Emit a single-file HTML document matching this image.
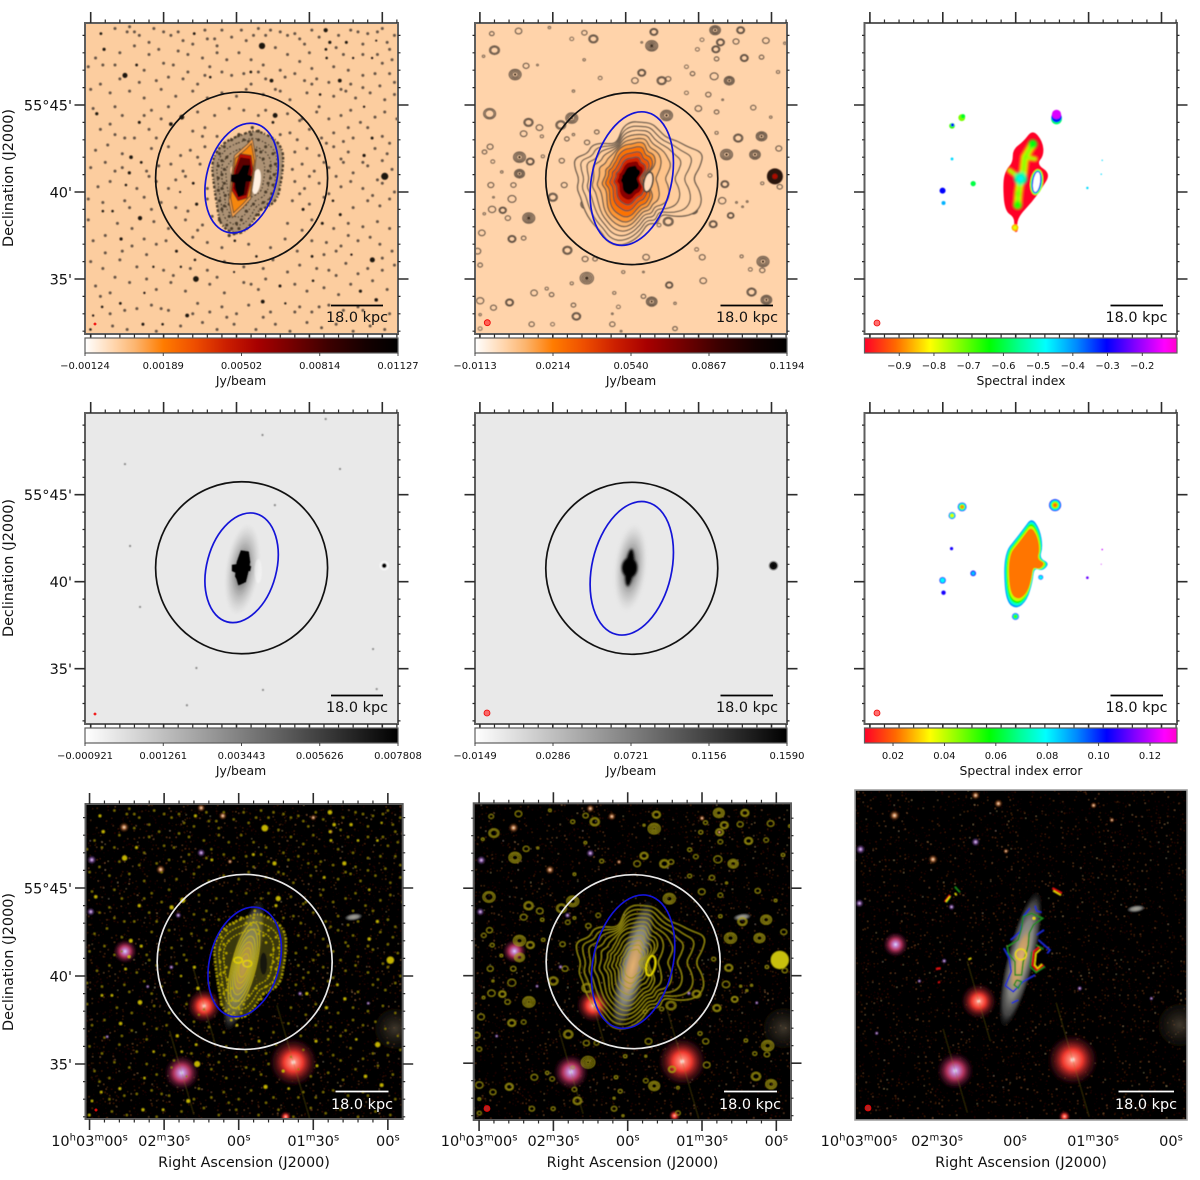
<!DOCTYPE html>
<html lang="en">
<head>
<meta charset="utf-8">
<title>Radio continuum maps of a galaxy</title>
<style>
html,body{margin:0;padding:0;background:#fff}
svg{display:block;filter:blur(0.3px)}
text{font-family:"DejaVu Sans","Liberation Sans",sans-serif;fill:#111}
</style>
</head>
<body>
<svg id="fig" xmlns="http://www.w3.org/2000/svg" width="1200" height="1180" viewBox="0 0 1200 1180">
<defs>
<filter id="soft" x="-5%" y="-5%" width="110%" height="110%"><feGaussianBlur stdDeviation="0.45"/></filter>
<filter id="soft2" x="-30%" y="-30%" width="160%" height="160%"><feGaussianBlur stdDeviation="1.4"/></filter>
<filter id="soft4" x="-50%" y="-50%" width="200%" height="200%"><feGaussianBlur stdDeviation="3.5"/></filter>
<filter id="speckle" x="0" y="0" width="100%" height="100%" color-interpolation-filters="sRGB">
<feTurbulence type="fractalNoise" baseFrequency="0.62" numOctaves="2" seed="11"/>
<feColorMatrix type="matrix" values="9 0 0 0 -6.6  8 0 0 0 -6.1  7 0 0 0 -5.5  0 0 0 0 1"/>
</filter>
<radialGradient id="glow-red"><stop offset="0" stop-color="#fff"/><stop offset=".12" stop-color="#ff8a78"/><stop offset=".38" stop-color="#f0392e"/><stop offset=".65" stop-color="#a02024" stop-opacity=".6"/><stop offset="1" stop-color="#501020" stop-opacity="0"/></radialGradient>
<radialGradient id="glow-purple"><stop offset="0" stop-color="#dfe4ff"/><stop offset=".15" stop-color="#c88bd8"/><stop offset=".45" stop-color="#b0325a"/><stop offset=".72" stop-color="#701838" stop-opacity=".55"/><stop offset="1" stop-color="#300818" stop-opacity="0"/></radialGradient>
<radialGradient id="glow-warm"><stop offset="0" stop-color="#fff2d8"/><stop offset=".3" stop-color="#c07a48"/><stop offset=".65" stop-color="#603014" stop-opacity=".5"/><stop offset="1" stop-color="#301808" stop-opacity="0"/></radialGradient>
<radialGradient id="glow-violet"><stop offset="0" stop-color="#f0e0ff"/><stop offset=".3" stop-color="#9060b0"/><stop offset=".7" stop-color="#402850" stop-opacity=".45"/><stop offset="1" stop-color="#201028" stop-opacity="0"/></radialGradient>
<radialGradient id="glow-dim"><stop offset="0" stop-color="#8a7a60" stop-opacity=".45"/><stop offset="1" stop-color="#4a4030" stop-opacity="0"/></radialGradient>
<radialGradient id="gal-grey"><stop offset="0" stop-color="#a8a498"/><stop offset=".55" stop-color="#84847f"/><stop offset=".82" stop-color="#5c5c5c" stop-opacity=".7"/><stop offset="1" stop-color="#333" stop-opacity="0"/></radialGradient>
<radialGradient id="gal-core"><stop offset="0" stop-color="#e4b070"/><stop offset=".65" stop-color="#c09a68"/><stop offset="1" stop-color="#8a8a80" stop-opacity="0"/></radialGradient>
<radialGradient id="halo-dark"><stop offset="0" stop-color="#000" stop-opacity=".85"/><stop offset=".45" stop-color="#333" stop-opacity=".38"/><stop offset="1" stop-color="#888" stop-opacity="0"/></radialGradient>
<radialGradient id="src-dark"><stop offset="0" stop-color="#000"/><stop offset=".55" stop-color="#111"/><stop offset="1" stop-color="#888" stop-opacity="0"/></radialGradient>
</defs>
<rect width="1200" height="1180" fill="#fff"/>

<g id="layer-images"></g>
<g id="layer-axes"></g>
<g id="layer-colorbars"></g>

<g>
<line x1="331" x2="383" y1="305.5" y2="305.5" stroke="#000" stroke-width="1.8"/>
<text x="357" y="322" font-size="14.4" text-anchor="middle">18.0 kpc</text>
<line x1="720.5" x2="773" y1="305.5" y2="305.5" stroke="#000" stroke-width="1.8"/>
<text x="747" y="322" font-size="14.4" text-anchor="middle">18.0 kpc</text>
<line x1="1110.5" x2="1163" y1="305.5" y2="305.5" stroke="#000" stroke-width="1.8"/>
<text x="1136.5" y="322" font-size="14.4" text-anchor="middle">18.0 kpc</text>
<line x1="331" x2="383" y1="695.5" y2="695.5" stroke="#000" stroke-width="1.8"/>
<text x="357" y="712" font-size="14.4" text-anchor="middle">18.0 kpc</text>
<line x1="720.5" x2="773" y1="695.5" y2="695.5" stroke="#000" stroke-width="1.8"/>
<text x="747" y="712" font-size="14.4" text-anchor="middle">18.0 kpc</text>
<line x1="1110.5" x2="1163" y1="695.5" y2="695.5" stroke="#000" stroke-width="1.8"/>
<text x="1136.5" y="712" font-size="14.4" text-anchor="middle">18.0 kpc</text>
<line x1="335.5" x2="388.5" y1="1091.5" y2="1091.5" stroke="#fff" stroke-width="1.8"/>
<text style="fill:#fff" x="362" y="1109" font-size="14.4" text-anchor="middle">18.0 kpc</text>
<line x1="724" x2="777" y1="1091.5" y2="1091.5" stroke="#fff" stroke-width="1.8"/>
<text style="fill:#fff" x="750" y="1109" font-size="14.4" text-anchor="middle">18.0 kpc</text>
<line x1="1118.5" x2="1174" y1="1091.5" y2="1091.5" stroke="#fff" stroke-width="1.8"/>
<text style="fill:#fff" x="1146" y="1109" font-size="14.4" text-anchor="middle">18.0 kpc</text>
</g>

<g>
<text font-size="14.4" text-anchor="middle" transform="translate(13,178) rotate(-90)">Declination (J2000)</text>
<text font-size="14.4" text-anchor="middle" transform="translate(13,568) rotate(-90)">Declination (J2000)</text>
<text font-size="14.4" text-anchor="middle" transform="translate(13,962) rotate(-90)">Declination (J2000)</text>
<text font-size="14.4" text-anchor="middle" x="244" y="1167">Right Ascension (J2000)</text>
<text font-size="14.4" text-anchor="middle" x="632.5" y="1167">Right Ascension (J2000)</text>
<text font-size="14.4" text-anchor="middle" x="1021" y="1167">Right Ascension (J2000)</text>
<text font-size="12.4" text-anchor="middle" x="241" y="385">Jy/beam</text>
<text font-size="12.4" text-anchor="middle" x="631" y="385">Jy/beam</text>
<text font-size="12.4" text-anchor="middle" x="1021" y="385">Spectral index</text>
<text font-size="12.4" text-anchor="middle" x="241" y="775">Jy/beam</text>
<text font-size="12.4" text-anchor="middle" x="631" y="775">Jy/beam</text>
<text font-size="12.4" text-anchor="middle" x="1021" y="775">Spectral index error</text>
</g>

<script>
/* ---------- values: RA in seconds from 10h02m00s, Dec in arcmin above 55 deg ---------- */
const raMajorTicks = [60, 30, 0, -30, -60];
const decMajorTicks = [45, 40, 35];
const raTickLabels = ["10^h03^m00^s", "02^m30^s", "00^s", "01^m30^s", "00^s"];
const decTickLabels = ["55°45'", "40'", "35'"];

const cbarRadio1Labels = ["−0.00124", "0.00189", "0.00502", "0.00814", "0.01127"];
const cbarRadio2Labels = ["−0.0113", "0.0214", "0.0540", "0.0867", "0.1194"];
const cbarGrey1Labels = ["−0.000921", "0.001261", "0.003443", "0.005626", "0.007808"];
const cbarGrey2Labels = ["−0.0149", "0.0286", "0.0721", "0.1156", "0.1590"];
const alphaRange = [-1.0, -0.1];
const alphaTicks = [-0.9, -0.8, -0.7, -0.6, -0.5, -0.4, -0.3, -0.2];
const errorRange = [0.0089, 0.1305];
const errorTicks = [0.02, 0.04, 0.06, 0.08, 0.10, 0.12];

/* panel 1 / 7: compact sources [ra, dec, flux] */
const brightSources = [[-36.7,49.3,2],[-10.5,48.4,3],[55.8,49.1,1.3],[54.5,48.2,1.5],[17.4,49.1,1.3],[-38.4,48.6,1.5],[-45.2,48.6,1.4],[-36.8,48.2,1.3],[-57.5,48.7,1],[-37.1,47.7,1.2],[-48,47.7,1.1],[-55.8,47.7,1.1],[45.9,46.7,2.4],[41.1,47.3,1.3],[-14.4,46.4,1.8],[-42.5,46.4,1.8],[-5.9,46.9,1.3],[10.8,46.6,1.2],[57.5,44.5,1.5],[22.5,44.3,2.3],[27,43.9,1.8],[-15.9,44.4,2.3],[-15,44,1.3],[40,44,1.4],[-52.5,44.9,1.1],[-55.8,43.1,1.4],[-34.4,45.6,1.2],[-52.5,42.1,1.5],[-61,40.9,3.4],[43.4,42,1.7],[39.2,41.7,1.3],[44.1,41.1,1.5],[45.5,40.4,1.2],[17.8,40.5,1.3],[16.4,39.3,1.5],[23.2,40,1],[51,38.9,1.2],[55,38.9,1.2],[39.7,38.5,2],[47.5,37.3,1.5],[24.7,36.6,1.4],[17.1,36.1,1.2],[16.7,35,2.7],[0.7,37.2,1.2],[-27.4,39,1.4],[-35.3,38.2,1.4],[-42.7,38.7,1.4],[-39.7,39.5,1.2],[-31.1,36.3,1.3],[-55.9,36.1,2.4],[-31.5,34.9,1.2],[-17.9,34.6,1.4],[-57.5,33.8,1.7],[-51,34.3,1.5],[-10.8,33.7,1.8],[-20.1,33.6,1.1],[20.3,32.9,1.8],[38.5,32.4,1.4],[30.4,32.4,1.2],[47.8,33.6,1.3],[55.3,33.4,1.2],[59,32.9,1.1],[60.1,32.1,1.2],[-8.2,36.3,1.2],[-47.3,36.4,1.1],[22.9,35.7,1.1],[34.2,35.7,1.1],[37.9,34.2,1.1],[1,35.4,1]];

/* panel 1 / 7: faint compact sources [ra, dec] */
const faintSources = [[50,49.4],[45,49.2],[44,49.5],[40,49],[36,48.6],[30,49.2],[27,49],[22,48.7],[18,48.5],[13,49.3],[12,48.8],[9,48.8],[8,48.4],[2,48.9],[-2,49.3],[-4,48.7],[-9,49.4],[-14,49.3],[-18,49.2],[-21,49],[-24,49.1],[-28,48.5],[-31,49.3],[-42,49],[-47,49.3],[-50,49.2],[-54,49.1],[-60,49.4],[-62,48.6],[-63,48.2],[-58,47.9],[-52,47.9],[-44,47.9],[-30,48],[-26,47.5],[-21,47.9],[-16,48.3],[-6,47.6],[-1,48],[4,47.6],[8,48],[14,47.7],[20,47.9],[26,47.3],[30,47.4],[36,47.9],[50,47.3],[55,47.3],[58,47.7],[61,47.2],
[48,46.5],[40,46.3],[33,46.4],[28,46.6],[22,46.5],[13,46.7],[6,46.9],[2,46.7],[-3,46.8],[-9,46.9],[-12,46.5],[-20,46.6],[-24,46.8],[-28,46.4],[-33,46.5],[-38,46.3],[-47,46.2],[-52,46.7],[-57,46.8],[-63,46.8],[-59,46.1],[-65,46.3],[60,45.9],[52,45.7],[44,45.8],[38,45.4],[31,45.9],[25,45.5],[18,45.8],[12,45.4],[6,45.7],[0,45.5],[-4,45.9],[-11,45.6],[-18,45.8],[-22,45.3],[-29,45.7],[-40,45.5],[-45,45.8],[-49,45.4],[-55,45.7],[-61,45.3],[-65,45.6],
[59,44.8],[50,44.9],[47,44.4],[35,44.7],[31,44.2],[16,44.6],[9,44.4],[3,44.8],[-3,44.7],[-9,44.4],[-12,44.7],[-21,44.5],[-27,44.2],[-33,44.6],[-38,44.2],[-43,44.4],[-47,44.7],[-57,44.3],[-61,44.6],[-66,44.2],[56,43.6],[50,43.3],[42,43.1],[36,43.6],[33,43.1],[18,43.5],[13,43.7],[8,43.2],[-22,43.4],[-25,43],[-30,43.6],[-35,43.1],[-40,43.4],[-44,42.9],[-48,43.1],[-60,43.2],[-63,42.8],[58,42.4],[53,42.7],[47,42.2],[35,42.5],[28,42.6],[23,42.1],[19,42.4],[13,42.6],[-24,42.3],[-29,42.5],[-34,42.1],[-40,42.6],[-46,42.3],[-57,42.5],[-62,42.2],
[60,41.4],[54,41.7],[50,41.2],[37,41.2],[32,41.5],[27,41.6],[22,41.2],[15,41.6],[-23,41.3],[-27,41.6],[-32,41.2],[-38,41.4],[-44,41.7],[-48,41.1],[-54,41.5],[-58,40.7],[-64,41.3],[57,40.3],[52,40.6],[41,40.2],[33,40.6],[28,40.2],[21,40.9],[12,40.2],[-24,40.6],[-28,40.2],[-34,40.5],[-43,40.3],[-47,40.6],[-52,40.2],[-60,40.5],[-65,40],[61,39.6],[55,39.4],[46,39.5],[38,39.7],[31,39.4],[25,39.1],[12,39.6],[-23,39.5],[-30,39.3],[-36,39.7],[-48,39.1],[-54,39.5],[-59,39.2],[-63,39.6],
[61,38.4],[49,38.2],[43,37.9],[34,38.3],[28,37.9],[21,38.4],[14,38.1],[10,38.6],[-21,38.2],[-27,37.8],[-31,38.4],[-40,37.9],[-46,38.2],[-52,38],[-58,38.3],[-63,37.9],[59,37.2],[54,37.5],[43,36.9],[38,37.3],[33,37],[18,37.4],[12,37.1],[6,36.8],[-5,37],[-14,36.8],[-20,37.3],[-25,36.6],[-37,37.1],[-43,36.9],[-50,37.2],[-59,37],[-64,36.6],
[60,36],[55,35.6],[48,36.1],[41,35.7],[30,35.5],[12,35.5],[5,36],[-3,35.7],[-11,35.6],[-15,36.1],[-21,35.4],[-26,35.8],[-38,35.5],[-45,35.9],[-50,35.3],[-60,35.5],[-65,35.8],[58,34.6],[52,34.2],[44,34.8],[33,34.4],[27,34.8],[21,34.3],[11,34.7],[5,34.2],[-3,34.8],[-9,34.4],[-24,34.7],[-29,34.3],[-36,34.5],[-42,34.1],[-47,34.7],[-62,34.4],
[52,33],[41,33.3],[35,33.5],[28,33.2],[16,33.6],[11,33.1],[6,33.4],[0,33],[-5,33.5],[-14,33.1],[-26,33.4],[-31,33.1],[-38,33.5],[-44,33.2],[-50,33.4],[-63,33],[51,32.3],[45,32.1],[33,32],[23,32.3],[14,32.5],[8,32.1],[1,32.4],[-8,32.1],[-16,32.4],[-22,32],[-29,32.5],[-35,32.2],[-41,32.4],[-48,32],[-55,32.3],[-61,32.1],
[42,49.2],[34,49.4],[24,49.2],[6,49.3],[-7,49],[-12,49],[-26,48.8],[-34,48.9],[-41,48.3],[-52,48.5],[-58,49.2],[-65,49],[48,48],[42,48.4],[32,48.2],[24,48.1],[11,47.2],[-11,47.3],[-18,47],[-31,47.1],[-40,47.2],[-46,47],[-60,47.4],[-64,47.6],[38,47],[20,46.9],[16,46.2],[-6,46.2],[-16,45.9],[-31,46.2],[-43,45.9],[-52,46],[56,46.2],[-34,44.9],[-51,44],[-54,43.7],[-46,43.7],[-26,44.1],[-18,43.3],[28,44.9],[38,44.4],[52,43.9],[14,43.2],[46,43.1],[-37,42.8],[-43,41.9],[-52,41.7],[-60,41.8],[-36,41.7],[-30,40.9],[-26,39.9],[-38,39.9],[-41,40.9],[-56,39.8],[47,41.4],[36,40.9],[25,40.7],[16,42],[44,39.1],[35,39],[20,38.9],[16,37.8],[29,37.2],[37,36.4],[47,36.6],[54,36.5],[-31,37.2],[-36,36.4],[-41,36.6],[-46,37.5],[-55,37.4],[-60,36.2],[-54,35.6],[-41,35.2],[-33,35.6],[-12,35],[-6,34.7],[8,35.1],[19,35.6],[26,35.2],[37,35],[50,35.1],[-56,34.9],[-52,33.2],[-34,33.4],[-24,33.1],[-11,32.8],[4,32.8],[18,33],[31,33.3],[46,33.2],[56,34]];

/* panel 1 / 7: points inside the radio disc texture [ra, dec] */
const discSources = [[-6,43.3],[-9,43],[-3,43],[-12,42.6],[-15,42.2],[-16,41.6],[-15.5,41],[-15,40.4],[-14.5,39.9],[-13,39.3],[-10,39],[-11,41.9],[-13,41.2],[-13,40.5],[-12,40],[-9,38.7],[5,42.6],[7,42.2],[7.5,41.5],[7.5,40.8],[7.5,40.1],[7,39.5],[6,39],[4,42],[5,41.3],[5,40.5],[4.6,39.8],[3,38.6],[4,38.1],[2,37.9],[0,38.2],[-2,38.4],[2,43],[-1,43.3],[7,38.4],[1,37.6],[-4,38.9],[-7,39.3],[-8,42.4],[-14,41.5],[-14,40.8],[-14,39.6],[-11,39.4],[6,41.8],[6,41],[6,40.2],[3,39.3],[5,39.2],[-1,37.9],[3,37.5],[-10,42.3],[-6.5,43.7],[-9,43.5],[-5,42.9]];

/* panel 2 / 8: radio source rings [ra, dec, extent, levels] */
const radioSources = [[44.1,49.25,10,1],[55.1,49.1,7,1],[31.4,49.45,4,1],[17,49.15,8,1],[13.3,48.8,14,2],[54,48.15,15,2],[22.2,48.8,6,1],[-10.7,48.4,18,4],[-11.6,49.2,12,2],[-36.8,49.3,16,3],[-47.3,49.3,12,2],[-39,48.6,12,2],[-37.1,48.2,12,2],[-45.4,48.65,9,1],[-57.7,48.7,10,1],[-31.4,48.75,6,1],[-29.5,48.2,6,1],[-37.4,47.65,7,1],[-48.8,47.7,12,2],[-55.9,47.75,7,1],[58.5,47.8,4,1],[45.5,46.75,18,3],[41,47.25,9,1],[36.3,47.3,3,1],[17.1,47.6,4,1],[-6.6,46.85,12,2],[-3.8,46.4,10,1],[-14.8,46.4,14,2],[-17.5,46.5,8,1],[-42.6,46.4,15,3],[-36.4,46.65,12,1],[-27.5,46.8,7,1],[-25,47.2,6,1],[-62.7,46.9,5,1],[10.5,46.55,6,1],[21.5,45.8,4,1],[-25,45.7,6,1],[-34,45.6,8,1],[-39.9,45.3,3,1],[-29.9,44.8,10,1],[-37.4,44.6,7,1],[-52.5,44.85,8,1],[56,44.5,18,2],[40,44,14,2],[26.7,43.85,15,2],[22.2,44.25,18,3],[-16.8,44.4,18,3],[-59.7,44.3,4,1],[42,43.35,10,1],[34.5,43.2,5,1],[35.5,43.7,10,1],[24.2,43.05,7,1],[21.5,43.3,4,1],[11.9,43.45,7,1],[15.9,42.85,8,1],[-37.4,43.4,5,1],[-46.3,43.1,14,2],[-55.9,43.2,16,3],[-63,42.5,9,1],[-53.2,42.15,16,3],[-41.5,42.15,18,3],[55.8,42.6,9,1],[58.1,42.3,7,1],[43.7,42,18,3],[39.3,41.75,12,2],[34.1,42.05,5,1],[54.7,41.75,6,1],[43.7,41.05,15,3],[51,41.15,4,1],[26.3,41.8,8,1],[55.5,40.4,9,1],[46.2,40.4,8,1],[46.8,39.6,12,1],[54.4,39.7,3,1],[25.3,40.4,9,1],[30,39.7,14,2],[-34.7,40.95,6,1],[-40.8,40.45,12,2],[-39.7,39.5,11,1],[-43.2,38.65,10,2],[-36,38.15,12,2],[-45.6,39.4,3,1],[-48.1,39.15,3,1],[-50,39.45,3,1],[-56.2,40.5,5,1],[-63.4,40.3,8,1],[58.2,38.75,4,1],[55,39,11,1],[50.6,38.95,11,2],[48.5,38.5,8,1],[39.9,38.5,18,4],[59.2,37.65,10,1],[46.8,37.3,12,2],[42,37.35,7,1],[24,36.65,14,2],[16.7,36.15,9,1],[12.6,36.15,7,1],[59.9,35.8,7,1],[16,35.05,20,4],[1,35.4,5,1],[-7.3,35.4,3,1],[-8.4,36.25,10,1],[-29.2,36.7,6,1],[-31.5,36.25,9,1],[-47.7,36.3,5,1],[-56.5,36,18,3],[-51.3,35.55,6,1],[-56.2,35.5,8,1],[-31.9,34.9,10,1],[-17.9,34.65,11,2],[22.2,34.75,5,1],[32.5,34.45,5,1],[37.7,34.2,10,1],[30.5,34.1,7,1],[4.7,34.2,5,1],[-51.8,34.25,14,2],[-57.9,33.8,16,3],[-10.7,33.7,16,3],[-7.3,34,7,1],[-20.3,33.6,4,1],[59.9,33.75,11,1],[47.8,33.65,12,2],[54.4,33.35,9,1],[21.5,33.5,7,1],[3,33.4,6,1],[20.3,32.85,13,2],[59.9,32.95,4,1],[38.7,32.4,8,1],[30.1,32.4,6,1],[59.9,32.15,6,1],[5.5,32.4,8,1],[5.5,33,3,1],[-20.3,32.15,7,1],[1.9,32,3,1],[-6.6,48.6,3,1],[61,36.6,10,1],[-17.5,38.3,15,2],[-13.7,38.1,6,1],[-7,37.95,6,1],[-27.8,38.95,13,2],[16.3,39.3,16,2],[-65.5,48.55,4,1]];
const strongSource = [-61.4, 40.9, 24];

/* panel 2 / 8: contour shells as radii in arcmin every 10 degrees, clockwise from north */
const outerShell = [3.3,3.3,3.4,3.2,3.1,3.4,3.7,4.4,4.0,3.5,4.0,4.3,4.1,3.4,2.6,3.0,2.7,3.2,3.6,3.9,3.9,3.5,3.4,3.3,3.2,3.1,3.2,3.0,3.3,3.5,2.9,3.0,2.7,2.3,2.3,3.0];
const innerShell = [2.0,2.15,2.2,1.8,1.9,1.8,1.55,1.1,0.9,0.85,0.9,1.0,1.3,1.6,1.7,1.85,1.8,2.0,2.4,2.55,2.45,2.35,2.15,1.85,1.65,1.6,1.75,1.6,1.5,1.6,1.45,1.5,1.55,1.75,1.9,2.0];
const contourMix = [0,0.2,0.4,0.6,0.8,1,1,1,1,1,1];
const contourScale = [1,1,1,1,1,1,0.88,0.74,0.6,0.48,0.36];
const contourFlux = [0.1,0.1,0.11,0.13,0.16,0.21,0.27,0.34,0.44,0.62,1];

/* panel 1 / 7: disc outline, radii in arcmin, clockwise from north */
const discShell = [2.6,2.95,2.95,3.0,2.85,2.5,2.3,2.2,2.25,2.25,2.1,2.0,2.5,3.1,3.1,2.8,2.15,1.85,1.7,1.65,1.7,1.85,2.05,2.2,2.35,2.45];
/* panel 1 / 4: bright core outlines [ra, dec] */
const coreOrange = [[-6.3,42.9],[-7.6,41.85],[-6.8,40.85],[-5.6,39.7],[-2.7,39.25],[1.4,38.7],[2.7,39.6],[1.9,40.7],[0.6,42],[-4.3,42.6]];
const coreRed = [[-1.4,42.2],[-6,42.1],[-6.8,41.25],[-5.6,40.4],[-4.3,39.65],[-0.6,39.5],[1.9,40.1],[1,41.25]];
const coreBlack = [[-2.7,41.55],[-5.6,41.55],[-4.7,41],[-6.4,40.9],[-6,40.6],[-3.9,40.6],[-3.1,39.85],[-0.6,39.7],[0.6,40.3],[0.6,40.5],[2.3,40.6],[2.3,41],[-0.6,41.05]];
/* panel 7: optical-aligned inner contour half-axes in px */
const opticalContourMajor = [44,37,30,24,18,12];
const opticalContourMinor = [12,10.5,9,7.5,6,4.5];

/* panel 3: spectral index map */
const alphaOutline = [[-7,43.6],[-11.1,42.9],[-11.6,42.1],[-8.6,41.6],[-14.4,41.05],[-10.7,40.2],[-6.6,39.4],[-1.8,38.7],[-0.4,38.2],[-1.1,37.7],[1,37.7],[0.3,38.55],[4.6,38.9],[5.3,40.6],[3.9,41.3],[1.2,41.7],[1.2,42.45],[-3.2,42.9]];
const alphaRidge = [[-7,42.75],[-3.8,42],[-3.1,41.05],[-2,40.77],[-1.1,39.9],[-0.8,39.25]];
const alphaBranch = [[2.6,41.25],[-2,40.77]];
const alphaBranch2 = [[-8,41.9],[-3.8,42]];
const alphaPeaks = [[-2,40.77,-0.55,6.5],[-2,40.77,-0.47,3],[-7,42.75,-0.63,4.5],[-0.8,39.25,-0.66,4.2],[-1,39.9,-0.72,3]];
/* [ra, dec, index, radius in px] */
const alphaSources = [[22.2,44.27,-0.72,3.4],[21.7,44.35,-0.62,2.2],[26.2,43.8,-0.68,2.8],[26,43.85,-0.3,1.6],[-16.8,44.2,-0.58,5.4],[-16.8,44.3,-0.32,5.2],[-16.8,44.46,-0.16,4.6],[30.1,40.08,-0.3,3],[29.7,39.37,-0.42,2],[17.5,40.48,-0.6,2.6],[26.2,41.9,-0.45,1.4],[-29.5,40.23,-0.45,1.2],[-35.6,41.82,-0.45,0.7],[-35.2,41.02,-0.45,0.7]];
const alphaSmallBlob = [0.3,37.95];

/* panel 6: spectral index error map */
const errorOutline = [[-6.6,43.7],[-10,43],[-11.2,42],[-9.8,41.35],[-14,41.05],[-11,40.6],[-7.6,40.8],[-7,40],[-4.8,38.95],[-0.4,38.4],[4,38.85],[5,40.7],[3.8,41.8],[1,42.3],[-3.2,43.05]];
const errorEdgeValues = [0.09, 0.075, 0.055, 0.04, 0.022];
const errorEdgeScale = [1, 0.96, 0.91, 0.86, 0.8];
/* [ra, dec, peak error, radius in px] */
const errorSources = [[22.05,44.3,0.024,4.4],[26.2,43.8,0.035,3.4],[-16.2,44.4,0.022,6],[30.1,40.08,0.08,3.2],[29.7,39.37,0.105,2.2],[17.5,40.48,0.085,2.8],[26.4,41.9,0.105,1.6],[0.1,38,0.05,3.4],[-29.5,40.23,0.112,1.3],[-35.6,41.85,0.12,0.8],[-35.2,41,0.12,0.5],[-10.3,40.25,0.08,2.4]];

/* panels 4 / 5 */
const greySpecks = [[16.5,35.04],[45.9,46.76],[-36.7,49.35],[-10.7,48.43],[-42.6,46.48],[-56.2,36.13],[-57.7,33.83],[39.7,38.55],[-15.8,44.4],[43.8,42.05],[-10.9,33.78],[20.4,32.9]];
const greyCompanion = [-60.8, 40.92];

/* panels 7 / 8 / 9: optical stars [ra, dec, size, colour class] */
const stars = [[46.1,48.45,10,"warm"],[15.1,49.55,8,"warm"],[6.4,49.1,8,"warm"],[59.1,46.6,9,"violet"],[15.1,47,8,"violet"],[31.4,46.05,9,"warm"],[59.5,43.65,8,"violet"],[45.7,41.4,15,"purple"],[13.9,38.3,21,"red"],[22.9,34.5,22,"purple"],[-22,35.1,30,"red"],[24.3,43.45,6,"violet"],[27.1,40.5,5,"violet"],[-24.7,39,5,"violet"],[-52.1,38.45,4,"violet"],[36.6,39.4,4,"violet"],[52.9,36.55,4,"violet"],[-18.9,32,10,"red"],[-62.9,37,30,"dim"],[-30,49,6,"warm"],[-37,48.2,5,"warm"],[3.5,46.5,5,"warm"]];
const neighbourGalaxy = [-46.2, 43.35];
const galaxyCentre = [-2.1, 40.6];

/* panel 9: spectral-index contours on the optical image [ra, dec] */
const blueContours = [[[-5.7,43.38],[-3.4,42.98],[-1.9,42.1],[1.7,41.64]],[[4.3,41.19],[2.2,40.64],[1.5,39.92],[3.7,39.15],[0.7,38.82],[-3.1,39.37],[-7.6,39.73]],[[-7.6,43.52],[-8.2,43.23],[-10.1,43.16]],[[-8.2,41.92],[-11,42.19]],[[-8.9,41.65],[-13.3,41.1],[-12.3,40.92]],[[1.3,38.19],[-1.2,38.37]]];
const greenContours = [[[-3.1,42.92],[-6.3,43.1],[-10.5,42.83],[-7,42.47],[-5.4,42.01],[-5,41.37],[-4.4,41],[-3.1,40.46],[-2.5,39.73],[0,39.73],[0.05,40.46],[2.6,40.92],[3,41.28],[-1.2,41.65],[-2.5,42.28],[-3.1,42.92]],[[-0.6,39.46],[-2.5,39.37],[-1.2,39.01],[0.4,39.19],[-0.6,39.46]],[[-8,41.37],[-10.8,41.15]],[[-6.3,41.01],[-5.7,40.19],[-8,39.88],[-11.4,40.19]],[[23,44.56],[21.1,44.25]],[[26.3,43.7],[24.6,44.05]]];
const redContours = [[[-9.2,41.25],[-7.2,41.01],[-6.7,40.28],[-8.2,40.01],[-10.8,40.28]],[[26.8,43.74],[24.9,44.1]],[[-14.3,44.47],[-17.8,44.2]],[[30.2,40.06],[28.5,40.1]],[[29.3,39.37],[28.9,39.3]]];
const yellowContours = [[[-9.8,41.15],[-8,40.92],[-7.5,40.28],[-8.6,40.1],[-10.3,40.33]],[[26.5,43.74],[24.9,44.03]],[[-14.6,44.34],[-17.5,44.1]],[[23,44.2],[22.4,44.1]],[[17.8,40.58],[16.8,40.65]]];
const yellowRingP9 = [-2.2, 40.86];
const yellowDotP9 = [-7.2, 42.83];

/* colour ramps (position 0..1, colour) */
const heatStops = [[0,"#ffffff"],[0.1,"#ffd2a6"],[0.16,"#fcb56f"],[0.25,"#ff7c00"],[0.35,"#ee4e00"],[0.45,"#cc1f00"],[0.55,"#a80000"],[0.65,"#7a0000"],[0.78,"#3c0000"],[0.9,"#140000"],[1,"#000000"]];
const rainbowStops = [[0,"#ff0028"],[0.1,"#ff6a00"],[0.21,"#ffff00"],[0.3,"#88ff00"],[0.4,"#00ff00"],[0.5,"#00ff99"],[0.58,"#00ffff"],[0.68,"#0088ff"],[0.775,"#0000ff"],[0.87,"#8800ff"],[0.96,"#ff00ff"],[1,"#ff00cc"]];
const greyStops = [[0,"#ffffff"],[1,"#000000"]];

/* ---------- helpers ---------- */
const NS = "http://www.w3.org/2000/svg";
const defsEl = document.querySelector("#fig defs");
const imgLayer = document.getElementById("layer-images");
const axLayer = document.getElementById("layer-axes");
const cbLayer = document.getElementById("layer-colorbars");
function el(tag, attrs, parent) {
  const e = document.createElementNS(NS, tag);
  for (const k in attrs) e.setAttribute(k, attrs[k]);
  if (parent) parent.appendChild(e);
  return e;
}
function hex(c){return [parseInt(c.slice(1,3),16),parseInt(c.slice(3,5),16),parseInt(c.slice(5,7),16)];}
function ramp(stops, t) {
  t = Math.max(0, Math.min(1, t));
  for (let i = 1; i < stops.length; i++) {
    if (t <= stops[i][0]) {
      const a = stops[i-1], b = stops[i], f = (t-a[0])/(b[0]-a[0]);
      const ca = hex(a[1]), cb = hex(b[1]);
      return "rgb(" + ca.map((v,j)=>Math.round(v+(cb[j]-v)*f)).join(",") + ")";
    }
  }
  return stops[stops.length-1][1];
}
const alphaColor = v => ramp(rainbowStops, (v-alphaRange[0])/(alphaRange[1]-alphaRange[0]));
const errorColor = v => ramp(rainbowStops, (v-errorRange[0])/(errorRange[1]-errorRange[0]));

function panel(n, l, t, r, b, x0, pxs, y40, pxa, bg) {
  const P = {n, l, t, r, b, x0, pxs, y40, pxa, bg};
  P.x = ra => x0 - pxs*ra;
  P.y = dec => y40 - pxa*(dec-40);
  return P;
}
const P1 = panel(1, 85, 23, 398, 334, 236.5, 2.43, 192, 17.4, "#fccd9f");
const P2 = panel(2, 475, 23, 787, 334, 625.7, 2.43, 192, 17.4, "#ffd3aa");
const P3 = panel(3, 864.5, 23, 1177, 334, 1015.7, 2.43, 192, 17.4, "#ffffff");
const P4 = panel(4, 85, 413, 398, 724, 236.5, 2.43, 581.7, 17.4, "#e9e9e9");
const P5 = panel(5, 475, 413, 787, 724, 625.7, 2.43, 581.7, 17.4, "#e9e9e9");
const P6 = panel(6, 864.5, 413, 1177, 724, 1015.7, 2.43, 581.7, 17.4, "#ffffff");
const P7 = panel(7, 85.5, 804, 402.7, 1119, 238.7, 2.486, 976, 17.6, "#000000");
const P8 = panel(8, 473.7, 803.3, 791, 1120, 627.7, 2.477, 975.7, 17.5, "#000000");
const P9 = panel(9, 855, 790, 1187, 1120, 1015.1, 2.616, 970.1, 18.3, "#000000");

function openImage(P, name) {
  const cp = el("clipPath", {id:"clip"+P.n}, defsEl);
  el("rect", {x:P.l, y:P.t, width:P.r-P.l, height:P.b-P.t}, cp);
  const g = el("g", {"clip-path":"url(#clip"+P.n+")"}, imgLayer);
  
  
  const bg = el("rect", {x:P.l, y:P.t, width:P.r-P.l, height:P.b-P.t, fill:P.bg}, g);
  
  
  return g;
}
function pathOf(P, pts, closed) {
  return "M" + pts.map(q => P.x(q[0]).toFixed(1) + " " + P.y(q[1]).toFixed(1)).join("L") + (closed ? "Z" : "");
}
function scaledPts(pts, f) {
  const cx = pts.reduce((s,q)=>s+q[0],0)/pts.length, cy = pts.reduce((s,q)=>s+q[1],0)/pts.length;
  return pts.map(q=>[cx+(q[0]-cx)*f, cy+(q[1]-cy)*f]);
}
function smoothClosed(xy) {
  const n = xy.length;
  let d = "";
  for (let i = 0; i < n; i++) {
    const a = xy[i], b = xy[(i+1)%n];
    const m = [(a[0]+b[0])/2, (a[1]+b[1])/2];
    if (i === 0) {
      const z = xy[n-1];
      d += "M" + ((z[0]+a[0])/2).toFixed(1) + " " + ((z[1]+a[1])/2).toFixed(1);
    }
    d += "Q" + a[0].toFixed(1) + " " + a[1].toFixed(1) + " " + m[0].toFixed(1) + " " + m[1].toFixed(1);
  }
  return d + "Z";
}
function smoothOf(P, pts) {
  return smoothClosed(pts.map(q => [P.x(q[0]), P.y(q[1])]));
}
function polar(P, radii, scale, cRa, cDec) {
  const cx = P.x(cRa), cy = P.y(cDec), step = 2*Math.PI/radii.length;
  return radii.map((r,i)=>[cx + r*scale*P.pxa*Math.sin(i*step), cy - r*scale*P.pxa*Math.cos(i*step)]);
}
function circleOverlay(P, g, ringColor, ringRa, ringDec, ringR, ax, ay, ar) {
  const cx = P.x(ringRa), cy = P.y(ringDec);
  const c = el("circle", {cx:cx, cy:cy, r:ringR, fill:"none", stroke:ringColor, "stroke-width":1.7}, g);
  
  
  const ex = P.x(ax), ey = P.y(ay);
  const e = el("ellipse", {cx:ex, cy:ey, rx:ar[1], ry:ar[0], transform:"rotate("+ar[2]+" "+ex+" "+ey+")", fill:"none", stroke:"#1414d8", "stroke-width":1.7}, g);
  
  
}
function beam(P, g, bx, by, r) {
  const c = el("circle", {cx:bx, cy:by, r:r, fill:"#ff3030", "fill-opacity":0.7, stroke:"#f00000", "stroke-width":0.8}, g);
  
  
}

/* ---------- shared drawing ---------- */
function drawStars(P, g) {
  const sp = el("rect", {x:P.l, y:P.t, width:P.r-P.l, height:P.b-P.t, filter:"url(#speckle)", opacity:0.6}, g);
  
  
  for (const s of stars) {
    const x = P.x(s[0]), y = P.y(s[1]);
    const size = s[2] * (s[2] >= 15 ? 0.82 : 0.55) * (P.pxs/2.486);
    const st = el("circle", {cx:x, cy:y, r:size, fill:"url(#glow-"+s[3]+")"}, g);
    
    
    if (s[2] >= 21 && s[3] !== "dim") {
      const ln = el("line", {x1:x-s[2]*0.55, y1:y-s[2]*1.9, x2:x+s[2]*0.55, y2:y+s[2]*1.9, stroke:"#8a7c20", "stroke-width":0.6, opacity:0.45}, g);
      
      
    }
  }
  const nx = P.x(neighbourGalaxy[0]), ny = P.y(neighbourGalaxy[1]);
  const ng = el("ellipse", {cx:nx, cy:ny, rx:9, ry:3.4, fill:"url(#gal-grey)", transform:"rotate(-8 "+nx+" "+ny+")"}, g);
  
  
  const gx = P.x(galaxyCentre[0]), gy = P.y(galaxyCentre[1]);
  const a1 = el("ellipse", {cx:gx, cy:gy, rx:14, ry:68*(P.pxa/17.6), fill:"url(#gal-grey)", transform:"rotate(14 "+gx+" "+gy+")"}, g);
  
  
  const a2 = el("ellipse", {cx:gx, cy:gy+1, rx:8, ry:36, fill:"url(#gal-core)", transform:"rotate(14 "+gx+" "+gy+")"}, g);
  
  
}
function drawCompact(P, g, fillBright, fillFaint, faintR, faintOpacity) {
  for (const s of faintSources) {
    const d = el("circle", {cx:P.x(s[0]), cy:P.y(s[1]), r:faintR, fill:fillFaint, "fill-opacity":faintOpacity}, g);
    
    
  }
  for (const s of brightSources) {
    const d = el("circle", {cx:P.x(s[0]), cy:P.y(s[1]), r:s[2]*1.05, fill:fillBright}, g);
    
    
  }
}
function drawDisc(P, g, fill, fillOp, stroke, dotFill) {
  const cRa = -2.4, cDec = 40.7;
  const outer = el("path", {d:smoothClosed(polar(P, discShell, 1, cRa, cDec)), fill:fill, "fill-opacity":fillOp, stroke:stroke, "stroke-width":2.4, "stroke-dasharray":"2.6 1.4 1.2 2.2 3 1.6"}, g);
  
  
  for (const f of [0.85, 0.7, 0.55]) {
    const ln = el("path", {d:smoothClosed(polar(P, discShell, f, cRa, cDec)), fill:"none", stroke:stroke, "stroke-width":1.3, "stroke-dasharray":"2 2.2 1.2 1.6"}, g);
    
    
  }
  for (const s of discSources) {
    const d = el("circle", {cx:P.x(s[0]), cy:P.y(s[1]), r:1.6, fill:dotFill}, g);
    
    
  }
}
function drawRings(P, g, stroke, width, inner) {
  for (const s of radioSources) {
    const x = P.x(s[0]), y = P.y(s[1]), rr = s[2]/3*0.92;
    for (let i = 0; i < s[3]; i++) {
      const c = el("ellipse", {cx:x, cy:y, rx:rr*(1-i*0.25)*1.08, ry:rr*(1-i*0.25)*0.94, fill:"none", stroke:stroke, "stroke-width":rr<2?0.8:width}, g);
      
      
    }
    if (inner && s[3] >= 3) {
      const c = el("circle", {cx:x, cy:y, r:rr*0.22, fill:inner}, g);
      
      
    }
  }
}
function drawContours(P, g, filled, stroke, sw) {
  const cRa = -2.4, cDec = 40.75;
  contourMix.forEach((m, i) => {
    const radii = outerShell.map((r,k) => (r*(1-m) + innerShell[k]*m));
    const pts = polar(P, radii, contourScale[i], cRa, cDec);
    const fillC = filled ? ramp(heatStops, contourFlux[i]) : "none";
    const c = el("path", {d:smoothClosed(pts), fill:fillC, stroke:(filled && contourFlux[i]>0.5)?"none":stroke, "stroke-width":sw}, g);
    
    
  });
}

/* ---------- panel 1 ---------- */
{
  const P = P1, g = openImage(P, "radio-map-high-resolution");
  const im = el("g", {filter:"url(#soft)"}, g);
  
  
  drawCompact(P, im, "#1c120c", "#55463a", 1.5, 0.9);
  drawDisc(P, im, "#8e7a64", 0.72, "#4c3c2c", "#4c3c2c");
  const hole = el("ellipse", {cx:P.x(-8.2), cy:P.y(40.6), rx:4.2, ry:12.5, fill:"#fff0e0", transform:"rotate(8 "+P.x(-8.2)+" "+P.y(40.6)+")"}, im);
  
  
  const gap = el("ellipse", {cx:P.x(1.6), cy:P.y(41.25), rx:2.2, ry:4, fill:"#fcca9a"}, im);
  
  
  const o0 = el("path", {d:pathOf(P, scaledPts(coreOrange,1.08), true), fill:"#f9a24c", stroke:"#6a5138", "stroke-width":1}, im);
  
  
  const o1 = el("path", {d:pathOf(P, scaledPts(coreOrange,0.95), true), fill:"#f58608", stroke:"#6a4a28", "stroke-width":1}, im);
  
  
  const r1 = el("path", {d:pathOf(P, coreRed, true), fill:"#b80f00", stroke:"#5a3020", "stroke-width":0.8}, im);
  
  
  const r2 = el("path", {d:pathOf(P, scaledPts(coreRed,0.85), true), fill:"#5c0000"}, im);
  
  
  const b1 = el("path", {d:pathOf(P, coreBlack, true), fill:"#000"}, im);
  
  
  circleOverlay(P, g, "#111", -2.1, 40.8, 86, -2.1, 40.8, [56, 34.8, 15]);
  beam(P, g, 95, 324, 1);
}

/* ---------- panel 2 ---------- */
{
  const P = P2, g = openImage(P, "radio-map-low-resolution");
  const im = el("g", {filter:"url(#soft)"}, g);
  
  
  drawRings(P, im, "#5e4e40", 1, "#3a2a1e");
  const ss = el("circle", {cx:P.x(strongSource[0]), cy:P.y(strongSource[1]), r:strongSource[2]/3, fill:"#2a1410"}, im);
  
  
  const sc = el("circle", {cx:P.x(strongSource[0]), cy:P.y(strongSource[1]), r:strongSource[2]/9, fill:"#a81000"}, im);
  
  
  drawContours(P, im, true, "#665648", 1.3);
  const hx = P.x(-9.3), hy = P.y(40.57);
  const h1 = el("ellipse", {cx:hx, cy:hy, rx:4.4, ry:10, fill:"#ffdcbc", stroke:"#4a4038", "stroke-width":1.7, transform:"rotate(12 "+hx+" "+hy+")"}, im);
  
  
  circleOverlay(P, g, "#111", -2.5, 40.77, 86, -2.5, 40.77, [67.9, 39.8, 13]);
  beam(P, g, 487.3, 322.7, 3);
}

/* ---------- panel 3 ---------- */
{
  const P = P3, g = openImage(P, "spectral-index-map");
  const im = el("g", {filter:"url(#soft)"}, g);
  
  
  const base = el("path", {d:smoothOf(P, alphaOutline), fill:alphaColor(-1)}, im);
  
  
  const cpath = el("clipPath", {id:"alpha-clip"}, defsEl);
  el("path", {d:smoothOf(P, alphaOutline)}, cpath);
  const inner = el("g", {"clip-path":"url(#alpha-clip)"}, im);
  
  
  const blur = el("g", {filter:"url(#soft2)"}, inner);
  
  
  for (const [w, v] of [[9,-0.88],[6,-0.78],[3,-0.72]]) {
    for (const line of [alphaRidge, alphaBranch, alphaBranch2]) {
      const pl = el("path", {d:pathOf(P, line, false), fill:"none", stroke:alphaColor(v), "stroke-width":w*(line===alphaRidge?1:0.6), "stroke-linecap":"round", "stroke-linejoin":"round"}, blur);
      
      
    }
  }
  for (const q of alphaPeaks) {
    const c = el("circle", {cx:P.x(q[0]), cy:P.y(q[1]), r:q[3], fill:alphaColor(q[2])}, blur);
    
    
  }
  const hx = P.x(-8.6), hy = P.y(40.57);
  for (const [rx, ry, col] of [[6.4,13,alphaColor(-0.75)],[5.4,12,alphaColor(-0.55)],[4.6,11,alphaColor(-0.3)],[3.4,10,"#ffffff"]]) {
    const e = el("ellipse", {cx:hx, cy:hy, rx:rx, ry:ry, fill:col, transform:"rotate(8 "+hx+" "+hy+")"}, im);
    
    
  }
  const b1 = el("circle", {cx:P.x(alphaSmallBlob[0]), cy:P.y(alphaSmallBlob[1]), r:3.4, fill:alphaColor(-0.86)}, im);
  
  
  const b2 = el("circle", {cx:P.x(alphaSmallBlob[0]), cy:P.y(alphaSmallBlob[1]), r:1.8, fill:alphaColor(-0.79)}, im);
  
  
  for (const s of alphaSources) {
    const c = el("circle", {cx:P.x(s[0]), cy:P.y(s[1]), r:s[3], fill:alphaColor(s[2])}, im);
    
    
  }
  beam(P, g, 877, 323, 3);
}

/* ---------- panel 4 ---------- */
{
  const P = P4, g = openImage(P, "greyscale-map-high-resolution");
  const im = el("g", {filter:"url(#soft)"}, g);
  
  
  for (const s of greySpecks) {
    const d = el("circle", {cx:P.x(s[0]), cy:P.y(s[1]), r:1.1, fill:"#888"}, im);
    
    
  }
  const hx = P.x(-2.4), hy = P.y(40.7);
  const halo = el("ellipse", {cx:hx, cy:hy, rx:17, ry:46, fill:"url(#halo-dark)", transform:"rotate(8 "+hx+" "+hy+")"}, im);
  
  
  const bright = el("ellipse", {cx:P.x(-9), cy:P.y(40.6), rx:3.5, ry:12, fill:"#fafafa", opacity:0.45}, im);
  
  
  const core = el("path", {d:pathOf(P, scaledPts(coreRed,0.72), true), fill:"#000"}, im);
  
  
  const peak = el("path", {d:pathOf(P, scaledPts(coreBlack,0.92), true), fill:"#000"}, im);
  
  
  const ring = el("circle", {cx:P.x(greyCompanion[0]), cy:P.y(greyCompanion[1]), r:4.8, fill:"#f8f8f8"}, im);
  
  
  const comp = el("circle", {cx:P.x(greyCompanion[0]), cy:P.y(greyCompanion[1]), r:2.4, fill:"#000"}, im);
  
  
  circleOverlay(P, g, "#111", -2.1, 40.8, 86, -2.1, 40.8, [56, 34.8, 15]);
  beam(P, g, 95, 714, 1);
}

/* ---------- panel 5 ---------- */
{
  const P = P5, g = openImage(P, "greyscale-map-low-resolution");
  const im = el("g", {filter:"url(#soft2)"}, g);
  
  
  const hx = P.x(-2), hy = P.y(40.8);
  const halo = el("ellipse", {cx:hx, cy:hy, rx:16, ry:44, fill:"url(#halo-dark)", transform:"rotate(6 "+hx+" "+hy+")"}, im);
  
  
  const spine = el("ellipse", {cx:hx-1, cy:hy, rx:4.2, ry:19, fill:"#000", transform:"rotate(6 "+hx+" "+hy+")"}, im);
  
  
  const core = el("ellipse", {cx:hx-1, cy:hy, rx:8, ry:10, fill:"#000"}, im);
  
  
  const comp = el("circle", {cx:P.x(greyCompanion[0]), cy:P.y(greyCompanion[1]), r:5.6, fill:"url(#src-dark)"}, g);
  
  
  circleOverlay(P, g, "#111", -2.5, 40.77, 86, -2.5, 40.77, [67.9, 39.8, 13]);
  beam(P, g, 487, 713, 3);
}

/* ---------- panel 6 ---------- */
{
  const P = P6, g = openImage(P, "spectral-index-error-map");
  const im = el("g", {filter:"url(#soft)"}, g);
  
  
  errorEdgeValues.forEach((v, i) => {
    const c = el("path", {d:smoothOf(P, scaledPts(errorOutline, errorEdgeScale[i])), fill:errorColor(v)}, im);
    
    
  });
  for (const s of errorSources) {
    const levels = [0.105, 0.08, 0.06, 0.04, s[2]].filter(v => v >= s[2]);
    levels.forEach((v, i) => {
      const c = el("circle", {cx:P.x(s[0]), cy:P.y(s[1]), r:s[3]*(1-i*0.8/Math.max(levels.length,1)), fill:errorColor(v)}, im);
      
      
    });
  }
  beam(P, g, 877, 713, 3);
}

/* ---------- panel 7 ---------- */
{
  const P = P7, g = openImage(P, "optical-image-with-high-resolution-contours");
  const im = el("g", {filter:"url(#soft)"}, g);
  
  
  drawStars(P, im);
  drawCompact(P, im, "#c2b200", "#8e8000", 1.15, 0.9);
  const d = el("path", {d:smoothClosed(polar(P, discShell, 1, -2.4, 40.7)), fill:"#8c8210", "fill-opacity":0.42, stroke:"#b2a400", "stroke-width":2.2, "stroke-dasharray":"2.4 1.6 1.2 2"}, im);
  
  
  for (const f of [0.85, 0.7]) {
    const ln = el("path", {d:smoothClosed(polar(P, discShell, f, -2.4, 40.7)), fill:"none", stroke:"#beb000", "stroke-width":1.1, "stroke-dasharray":"2 1.2"}, im);
    
    
  }
  for (const s of discSources) {
    const c = el("circle", {cx:P.x(s[0]), cy:P.y(s[1]), r:1.3, fill:"#b2a400"}, im);
    
    
  }
  const hg = el("ellipse", {cx:P.x(-10), cy:P.y(40.7), rx:3.6, ry:11, fill:"#15120a"}, im);
  
  
  const gx = P.x(galaxyCentre[0]), gy = P.y(galaxyCentre[1]);
  opticalContourMajor.forEach((ry, i) => {
    const e = el("ellipse", {cx:gx, cy:gy, rx:opticalContourMinor[i], ry:ry, fill:"none", stroke:"#c8b800", "stroke-width":0.9, transform:"rotate(14 "+gx+" "+gy+")"}, im);
    
    
  });
  for (const [ra, dec, rx, ry] of [[0.2,40.9,4.2,2.8],[-3.5,40.7,4.4,3.2]]) {
    const r = el("ellipse", {cx:P.x(ra), cy:P.y(dec), rx:rx, ry:ry, fill:"none", stroke:"#e4d200", "stroke-width":1.5}, im);
    
    
  }
  circleOverlay(P, g, "#e8e8e8", -2.4, 40.8, 87.5, -2.4, 40.8, [56, 34.8, 15]);
  beam(P, g, 96, 1110, 1.1);
}

/* ---------- panel 8 ---------- */
{
  const P = P8, g = openImage(P, "optical-image-with-low-resolution-contours");
  const im = el("g", {filter:"url(#soft)"}, g);
  
  
  drawStars(P, im);
  drawRings(P, im, "#a89c10", 0.75, null);
  const ss = el("circle", {cx:P.x(strongSource[0]), cy:P.y(strongSource[1]), r:9, fill:"#c8c010"}, im);
  
  
  drawContours(P, im, false, "#a89c10", 1);
  const hx = P.x(-9.3), hy = P.y(40.57);
  const h1 = el("ellipse", {cx:hx, cy:hy, rx:4.4, ry:10, fill:"none", stroke:"#e2d400", "stroke-width":2, transform:"rotate(12 "+hx+" "+hy+")"}, im);
  
  
  circleOverlay(P, g, "#e8e8e8", -2.2, 40.8, 87, -2.2, 40.8, [67.9, 39.8, 13]);
  beam(P, g, 487, 1108.5, 3);
}

/* ---------- panel 9 ---------- */
{
  const P = P9, g = openImage(P, "optical-image-with-spectral-index-contours");
  const im = el("g", {filter:"url(#soft)"}, g);
  
  
  drawStars(P, im);
  for (const line of blueContours) {
    const c = el("path", {d:pathOf(P, line, false), fill:"none", stroke:"#1a2ad8", "stroke-width":1.5}, im);
    
    
  }
  for (const line of greenContours) {
    const c = el("path", {d:pathOf(P, line, false), fill:"none", stroke:"#1c8a1c", "stroke-width":1.5}, im);
    
    
  }
  for (const line of redContours) {
    const c = el("path", {d:pathOf(P, line, false), fill:"none", stroke:"#e01010", "stroke-width":2}, im);
    
    
  }
  for (const line of yellowContours) {
    const c = el("path", {d:pathOf(P, line, false), fill:"none", stroke:"#e8d800", "stroke-width":1.5}, im);
    
    
  }
  const yr = el("circle", {cx:P.x(yellowRingP9[0]), cy:P.y(yellowRingP9[1]), r:5.4, fill:"none", stroke:"#e8d800", "stroke-width":1.5}, im);
  
  
  const yd = el("circle", {cx:P.x(yellowDotP9[0]), cy:P.y(yellowDotP9[1]), r:1.6, fill:"#e8d800"}, im);
  
  
  beam(P, g, 868, 1108, 3);
}

/* ---------- axes ---------- */
function drawAxes(P, withTicks, bottomLabels, leftLabels) {
  const f = el("rect", {x:P.l, y:P.t, width:P.r-P.l, height:P.b-P.t, fill:"none", stroke:withTicks?"#5e5e5e":"#a0a0a0", "stroke-width":withTicks?2:1.6}, axLayer);
  
  
  if (withTicks) {
    let major = "", minor = "";
    for (let s = 66; s >= -66; s -= 6) {
      const x = P.x(s);
      if (x < P.l || x > P.r) continue;
      if (raMajorTicks.includes(s)) major += "M"+x+" "+(P.t-11)+"V"+P.t+"M"+x+" "+P.b+"V"+(P.b+11);
      else minor += "M"+x+" "+(P.t-3.5)+"V"+P.t+"M"+x+" "+P.b+"V"+(P.b+3.5);
    }
    for (let d = 50; d >= 31; d -= 1) {
      const y = P.y(d);
      if (y < P.t || y > P.b) continue;
      if (decMajorTicks.includes(d)) major += "M"+(P.l-10.5)+" "+y+"H"+P.l+"M"+P.r+" "+y+"H"+(P.r+10.5);
      else minor += "M"+(P.l-2.5)+" "+y+"H"+P.l+"M"+P.r+" "+y+"H"+(P.r+2.5);
    }
    const mj = el("path", {d:major, stroke:"#2c2c2c", "stroke-width":1.6, fill:"none"}, axLayer);
    
    
    const mn = el("path", {d:minor, stroke:"#2c2c2c", "stroke-width":1.2, fill:"none"}, axLayer);
    
    
  }
  if (leftLabels) {
    decMajorTicks.forEach((d, i) => {
      const t = el("text", {x:72, y:P.y(d)+5.5, "font-size":14.5, "text-anchor":"end"}, axLayer);
      t.textContent = decTickLabels[i];
      
      
    });
  }
  if (bottomLabels) {
    const xs = bottomLabels;
    raTickLabels.forEach((lab, i) => {
      const t = el("text", {x:xs[i], y:1146, "font-size":14.5, "text-anchor":"middle"}, axLayer);
      
      
      lab.split(/(\^.)/).filter(Boolean).forEach(part => {
        const sup = part[0] === "^";
        const ts = el("tspan", sup ? {"font-size":10, dy:-5.5} : {"font-size":14.5, dy:t.dataset.up ? 5.5 : 0}, t);
        ts.textContent = sup ? part[1] : part;
        t.dataset.up = sup ? "1" : "";
      });
    });
  }
}
drawAxes(P1, true, null, true);
drawAxes(P2, true);
drawAxes(P3, true);
drawAxes(P4, true, null, true);
drawAxes(P5, true);
drawAxes(P6, true);
drawAxes(P7, true, raMajorTicks.map(P7.x), true);
drawAxes(P8, true, raMajorTicks.map(P8.x));
drawAxes(P9, false, [859, 937, 1015, 1093, 1171]);

/* ---------- colour bars ---------- */
function drawColorbar(P, top, stops, ticks, labels, name) {
  const id = "grad-" + name;
  const lg = el("linearGradient", {id:id, x1:0, x2:1, y1:0, y2:0}, defsEl);
  for (const s of stops) el("stop", {offset:s[0], "stop-color":s[1]}, lg);
  const bar = el("rect", {x:P.l, y:top, width:P.r-P.l, height:15, fill:"url(#"+id+")", stroke:"#5e5e5e", "stroke-width":1.2}, cbLayer);
  
  
  ticks.forEach((frac, i) => {
    const x = P.l + frac*(P.r-P.l);
    const tk = el("line", {x1:x, x2:x, y1:top+15, y2:top+18, stroke:"#333", "stroke-width":0.9}, cbLayer);
    
    
    const t = el("text", {x:x, y:top+31, "font-size":10, "text-anchor":"middle"}, cbLayer);
    t.textContent = labels[i];
    
    
  });
}
const quarterFracs = cbarRadio1Labels.map((_, i) => i/(cbarRadio1Labels.length-1));
const fracOf = (v, range) => (v-range[0])/(range[1]-range[0]);
drawColorbar(P1, 338, heatStops, quarterFracs, cbarRadio1Labels, "radio-high-res");
drawColorbar(P2, 338, heatStops, quarterFracs, cbarRadio2Labels, "radio-low-res");
drawColorbar(P3, 338, rainbowStops, alphaTicks.map(v=>fracOf(v,alphaRange)), alphaTicks.map(v=>"−"+Math.abs(v).toFixed(1)), "spectral-index");
drawColorbar(P4, 728, greyStops, quarterFracs, cbarGrey1Labels, "grey-high-res");
drawColorbar(P5, 728, greyStops, quarterFracs, cbarGrey2Labels, "grey-low-res");
drawColorbar(P6, 728, rainbowStops, errorTicks.map(v=>fracOf(v,errorRange)), errorTicks.map(v=>v.toFixed(2)), "spectral-index-error");
</script>
</svg>
</body>
</html>
